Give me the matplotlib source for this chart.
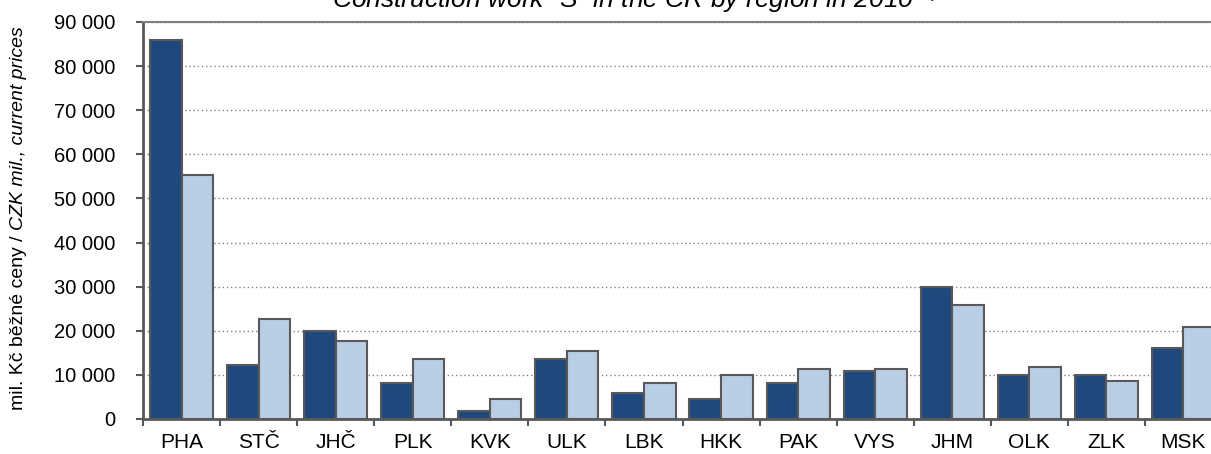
import numpy as np
import matplotlib
matplotlib.use("Agg")
from matplotlib import ticker
import matplotlib.pyplot as plt

matplotlib.rcParams.update({
    "font.family": ["Liberation Sans", "DejaVu Sans"],
    "mathtext.fontset": "custom",
    "mathtext.rm": "Liberation Sans",
    "mathtext.it": "Liberation Sans:italic",
})

REGIONS = ["PHA", "STČ", "JHČ", "PLK", "KVK", "ULK", "LBK",
           "HKK", "PAK", "VYS", "JHM", "OLK", "ZLK", "MSK"]
# mil. Kč, dva sloupce na kraj
SERIES_DARK = [86000, 12200, 20000, 8200, 1800, 13600, 6000,
               4500, 8200, 10900, 30000, 10000, 10000, 16000]
SERIES_LIGHT = [55300, 22700, 17700, 13600, 4500, 15400, 8200,
                10000, 11400, 11400, 25800, 11800, 8700, 20900]
Y_TICKS = list(range(0, 90001, 10000))

COLOR_DARK = "#1f497d"
COLOR_LIGHT = "#b9cde5"
EDGE = "#595959"

W, H = 1211, 454
fig = plt.figure(figsize=(W / 100, H / 100), dpi=100)
# osa přesahuje vpravo mimo obrázek (jako v předloze)
ax = fig.add_axes([143 / W, 1 - 419 / H, (1222 - 143) / W, (419 - 22) / H])

x = np.arange(len(REGIONS))
bw = 0.41
ax.bar(x - bw / 2, SERIES_DARK, bw, color=COLOR_DARK, edgecolor=EDGE,
       linewidth=1.5, zorder=3)
ax.bar(x + bw / 2, SERIES_LIGHT, bw, color=COLOR_LIGHT, edgecolor=EDGE,
       linewidth=1.5, zorder=3)

ax.set_xlim(-0.5, len(REGIONS) - 0.5)
ax.set_ylim(0, 90000)
ax.set_yticks(Y_TICKS)
ax.yaxis.set_major_formatter(
    ticker.FuncFormatter(lambda v, p: f"{v:,.0f}".replace(",", " ")))
ax.grid(axis="y", linestyle=(0, (1, 2)), color="#808080", linewidth=1.0, zorder=0)

ax.set_xticks(x)
ax.set_xticklabels(REGIONS)
ax.set_xticks(np.arange(-0.5, len(REGIONS)), minor=True)
ax.tick_params(axis="x", which="major", length=0, pad=10, labelsize=15)
ax.tick_params(axis="x", which="minor", length=5, width=1.5, color=EDGE, direction="out")
ax.tick_params(axis="y", length=5, width=1.5, color=EDGE, pad=15, labelsize=14.5)

for side in ("left", "bottom"):
    ax.spines[side].set_color(EDGE)
    ax.spines[side].set_linewidth(2)
ax.spines["top"].set_color("#808080")
ax.spines["top"].set_linewidth(1.5)
ax.spines["right"].set_visible(False)

# popisek osy y: česká část normálně, anglická kurzívou
ylab_x = 23 / W
ylab_y0 = 1 - 410 / H
t1 = fig.text(ylab_x, ylab_y0, "mil. Kč běžné ceny / ", rotation=90,
              rotation_mode="anchor", ha="left", va="baseline", fontsize=14)
renderer = fig.canvas.get_renderer()
len1 = t1.get_window_extent(renderer).height / (H)
fig.text(ylab_x, ylab_y0 + len1, "CZK mil., current prices", rotation=90,
         rotation_mode="anchor", ha="left", va="baseline", fontsize=14,
         style="italic")

fig.text(332 / W, 1 - 8 / H,
         r"Construction work “S” in the CR by region in 2010 $^{\it{1)}}$",
         ha="left", va="baseline", fontsize=19, style="italic")

fig.savefig("out.png", dpi=100)
